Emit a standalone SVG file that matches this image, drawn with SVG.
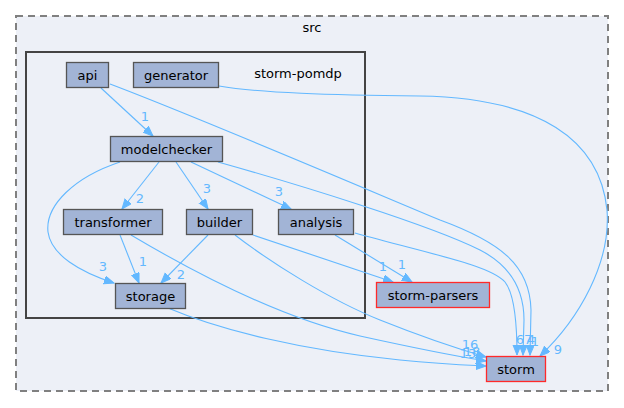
<svg xmlns="http://www.w3.org/2000/svg" width="624" height="408" viewBox="0 0 624 408">
<style>
text{font-family:"DejaVu Sans","Liberation Sans",sans-serif;font-size:13px;text-anchor:middle;}
.node rect{fill:#a2b4d6;stroke:#555;stroke-width:1.3;}
.node text{fill:#000;}
.ext rect{stroke:#ff2a2a;}
.edges path{fill:none;stroke:#63b8ff;stroke-width:1.1;marker-end:url(#ah);}
.lbl{fill:#63b8ff;}
</style>
<defs>
<marker id="ah" markerUnits="userSpaceOnUse" markerWidth="11" markerHeight="9" refX="10" refY="4" orient="auto" viewBox="0 0 11 9">
<path d="M0,0 L10,4 L0,8 z" fill="#63b8ff" stroke="#63b8ff" stroke-width="1"/>
</marker>
</defs>
<rect width="624" height="408" fill="#ffffff"/>
<g id="cluster-src">
<rect x="16" y="16" width="592" height="375" fill="#edf0f7" stroke="#808080" stroke-width="2" stroke-dasharray="7,5"/>
<text x="312" y="32">src</text>
</g>
<g id="cluster-storm-pomdp">
<rect x="26" y="52" width="339" height="266" fill="#edf0f7" stroke="#444" stroke-width="2"/>
<text x="298" y="78">storm-pomdp</text>
</g>
<g class="edges" id="edges">
<path d="M101,88 L153,136"/>
<path d="M110,84 C200,118 380,195 440,220 C500,242 530,265 531,310 L530,355"/>
<path d="M219,86 C260,93 330,95 420,96 C540,98 600,140 607,210 C611,262 580,318 540,356"/>
<path d="M159,162 L122,209"/>
<path d="M176,162 L208,209"/>
<path d="M191,162 L291,209"/>
<path d="M120,162 C75,177 45,205 48,232 C51,255 80,272 114,283"/>
<path d="M218,162 C300,185 430,225 480,250 C515,268 524,295 524,320 L523,355"/>
<path d="M120,235 L139,283"/>
<path d="M131,235 C190,270 280,318 360,336 C410,347 455,356 486,361"/>
<path d="M208,235 L161,283"/>
<path d="M253,235 L393,282"/>
<path d="M235,235 C270,262 330,300 380,320 C420,336 455,348 486,357"/>
<path d="M335,235 L412,282"/>
<path d="M355,233 C430,254 490,265 505,282 C516,296 517,330 517,355"/>
<path d="M168,308 C220,330 300,350 400,360 C440,364 465,365 486,366"/>
</g>
<g id="edge-labels">
<text class="lbl" x="145" y="121">1</text>
<text class="lbl" x="140" y="203">2</text>
<text class="lbl" x="207" y="193">3</text>
<text class="lbl" x="279" y="196">3</text>
<text class="lbl" x="103" y="271">3</text>
<text class="lbl" x="143" y="266">1</text>
<text class="lbl" x="181" y="279">2</text>
<text class="lbl" x="383" y="271">1</text>
<text class="lbl" x="402" y="269">1</text>
<text class="lbl" x="470" y="349">16</text>
<text class="lbl" x="468" y="358">13</text>
<text class="lbl" x="472" y="356">18</text>
<text class="lbl" x="524" y="344">67</text>
<text class="lbl" x="531" y="344">4</text>
<text class="lbl" x="535" y="346">1</text>
<text class="lbl" x="558" y="354">9</text>
</g>
<g id="api" class="node"><rect x="66.5" y="62.5" width="42" height="25"/><text x="87.5" y="79.5">api</text></g>
<g id="generator" class="node"><rect x="133.5" y="62.5" width="85" height="25"/><text x="176" y="79.5">generator</text></g>
<g id="modelchecker" class="node"><rect x="110.5" y="136.5" width="112" height="25"/><text x="166.5" y="153.5">modelchecker</text></g>
<g id="transformer" class="node"><rect x="63.5" y="209.5" width="99" height="25"/><text x="113" y="226.5">transformer</text></g>
<g id="builder" class="node"><rect x="186.5" y="209.5" width="66" height="25"/><text x="219.5" y="226.5">builder</text></g>
<g id="analysis" class="node"><rect x="278.5" y="209.5" width="75" height="25"/><text x="316" y="226.5">analysis</text></g>
<g id="storage" class="node"><rect x="115.5" y="283.5" width="70" height="25"/><text x="150.5" y="300.5">storage</text></g>
<g id="storm-parsers" class="node ext"><rect x="376.5" y="282.5" width="113" height="25"/><text x="433" y="299.5">storm-parsers</text></g>
<g id="storm" class="node ext"><rect x="486.5" y="356.5" width="59" height="25"/><text x="516" y="373.5">storm</text></g>
</svg>
